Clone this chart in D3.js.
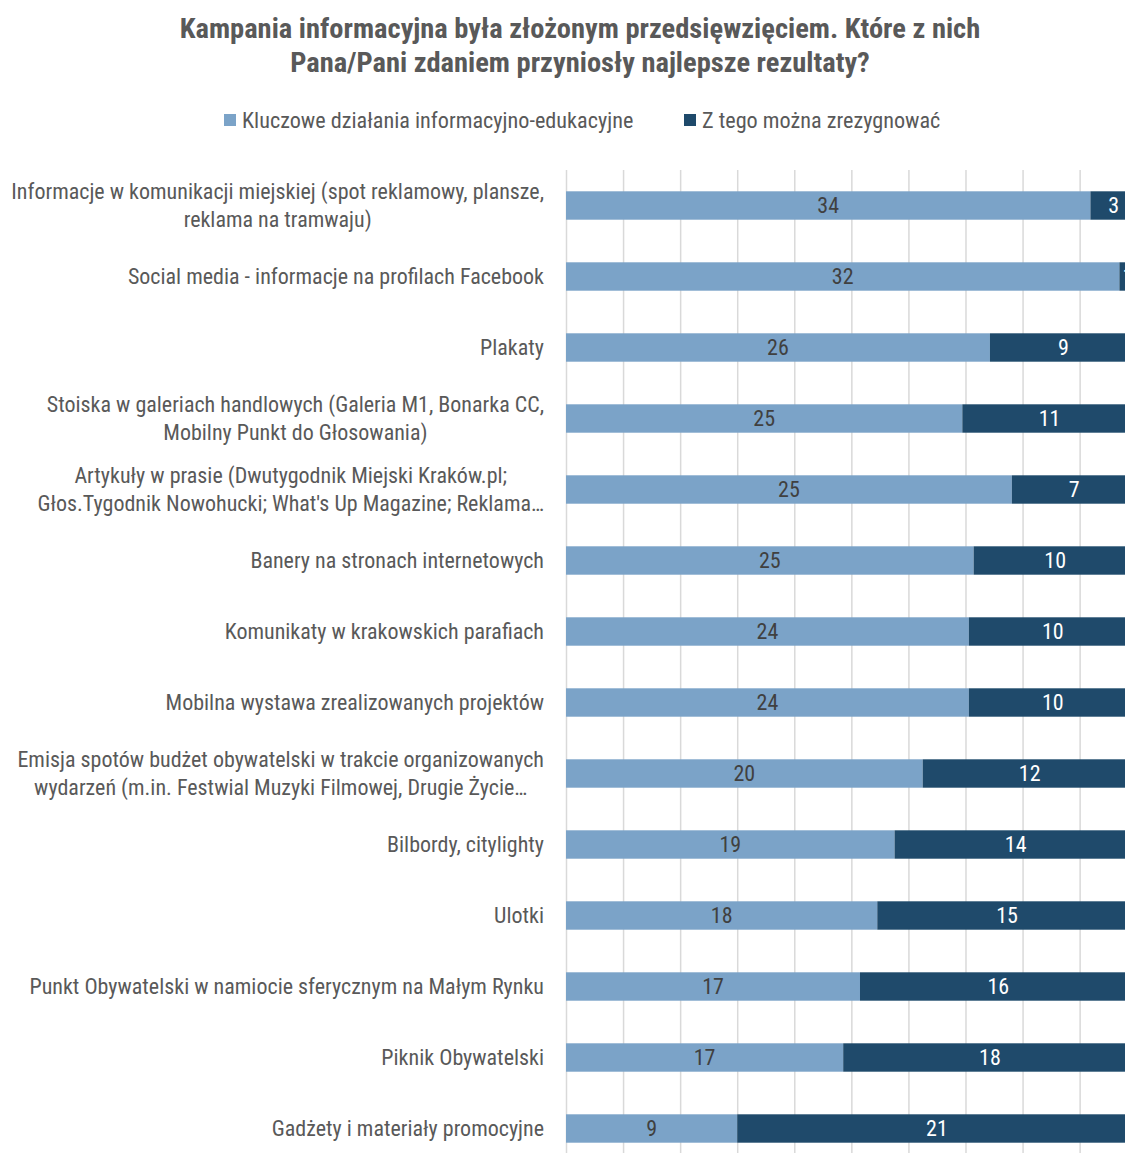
<!DOCTYPE html>
<html><head><meta charset="utf-8">
<script src="https://cdn.jsdelivr.net/npm/d3@7"></script>
<style>
body{margin:0;background:#fff;overflow:hidden}
svg text{font-family:"Liberation Sans Narrow","Arial Narrow","Roboto Condensed","Liberation Sans",sans-serif}
</style>
</head><body>
<svg id="c" width="1125" height="1153"></svg>
<script>
const titleLines = ["Kampania informacyjna była złożonym przedsięwzięciem. Które z nich","Pana/Pani zdaniem przyniosły najlepsze rezultaty?"];
const seriesNames = ["Kluczowe działania informacyjno-edukacyjne","Z tego można zrezygnować"];
const categories = [
  "Informacje w komunikacji miejskiej (spot reklamowy, plansze,\nreklama na tramwaju)",
  "Social media - informacje na profilach Facebook",
  "Plakaty",
  "Stoiska w galeriach handlowych (Galeria M1, Bonarka CC,\nMobilny Punkt do Głosowania)",
  "Artykuły w prasie (Dwutygodnik Miejski Kraków.pl;\nGłos.Tygodnik Nowohucki; What's Up Magazine; Reklama…",
  "Banery na stronach internetowych",
  "Komunikaty w krakowskich parafiach",
  "Mobilna wystawa zrealizowanych projektów",
  "Emisja spotów budżet obywatelski w trakcie organizowanych\nwydarzeń (m.in. Festwial Muzyki Filmowej, Drugie Życie…",
  "Bilbordy, citylighty",
  "Ulotki",
  "Punkt Obywatelski w namiocie sferycznym na Małym Rynku",
  "Piknik Obywatelski",
  "Gadżety i materiały promocyjne"
];
const keyActions = [34,32,26,25,25,25,24,24,20,19,18,17,17,9];
const canSkip    = [3,1,9,11,7,10,10,10,12,14,15,16,18,21];
const gridTicks  = [0,0.1,0.2,0.3,0.4,0.5,0.6,0.7,0.8,0.9,1.0];
const colors = ["#7BA3C8","#1F4A6B"];

const svg = d3.select("#c");
const x = d3.scaleLinear().domain([0,1]).range([566,1136.7]);
const y = d3.scaleBand().domain(categories).range([170,1164]).paddingInner(0.6).paddingOuter(0.3);

// title
svg.append("g").selectAll("text").data(titleLines).join("text")
  .attr("x",580).attr("y",(d,i)=>28+i*34)
  .attr("text-anchor","middle").attr("dominant-baseline","central")
  .attr("font-size",28.5).attr("font-weight","bold").attr("fill","#595959")
  .text(d=>d);

// legend
const legX = [224,684];
const leg = svg.append("g").selectAll("g").data(seriesNames).join("g")
  .attr("transform",(d,i)=>`translate(${legX[i]},120)`);
leg.append("rect").attr("x",0).attr("y",-6).attr("width",12).attr("height",12).attr("fill",(d,i)=>colors[i]);
leg.append("text").attr("x",18).attr("y",0).attr("dominant-baseline","central")
  .attr("font-size",22.2).attr("fill","#595959").text(d=>d);

// gridlines
const grid = svg.append("g").attr("transform","translate(0,170)")
  .call(d3.axisTop(x).tickValues(gridTicks).tickSize(-994).tickFormat(""));
grid.select(".domain").remove();
grid.selectAll("line").attr("stroke","#D9D9D9").attr("stroke-width",1.5);

// data
const rows = categories.map((c,i)=>{
  const t = keyActions[i]+canSkip[i];
  return {cat:c, vals:[keyActions[i],canSkip[i]], total:t};
});
const segs = [];
rows.forEach(r=>{
  let acc=0;
  r.vals.forEach((v,j)=>{
    segs.push({cat:r.cat, j, v, x0:acc/r.total, x1:(acc+v)/r.total});
    acc+=v;
  });
});

svg.append("g").selectAll("rect").data(segs).join("rect")
  .attr("x",d=>x(d.x0)).attr("width",d=>x(d.x1)-x(d.x0))
  .attr("y",d=>y(d.cat)).attr("height",y.bandwidth())
  .attr("fill",d=>colors[d.j]);

svg.append("g").selectAll("text").data(segs).join("text")
  .attr("x",d=>(x(d.x0)+x(d.x1))/2)
  .attr("y",d=>y(d.cat)+y.bandwidth()/2)
  .attr("text-anchor","middle").attr("dominant-baseline","central")
  .attr("font-size",22).attr("fill",d=>d.j===0?"#404040":"#ffffff")
  .text(d=>d.v);

// category labels (multi-line blocks: lines centred, block right-aligned)
const labelRight = 544;
const lab = svg.append("g").selectAll("text").data(categories).join("text")
  .attr("font-size",22).attr("fill","#595959");
lab.each(function(d){
  const lines = d.split("\n");
  const cy = y(d)+y.bandwidth()/2;
  const t = d3.select(this);
  const spans = lines.map((l,k)=>t.append("tspan")
      .attr("y",cy+(k-(lines.length-1)/2)*28)
      .attr("dominant-baseline","central").text(l));
  if (lines.length===1){
    t.attr("text-anchor","end");
    spans[0].attr("x",labelRight);
  } else {
    const maxW = d3.max(spans,s=>s.node().getComputedTextLength());
    t.attr("text-anchor","middle");
    spans.forEach(s=>s.attr("x",labelRight-maxW/2));
  }
});
</script>
</body></html>
